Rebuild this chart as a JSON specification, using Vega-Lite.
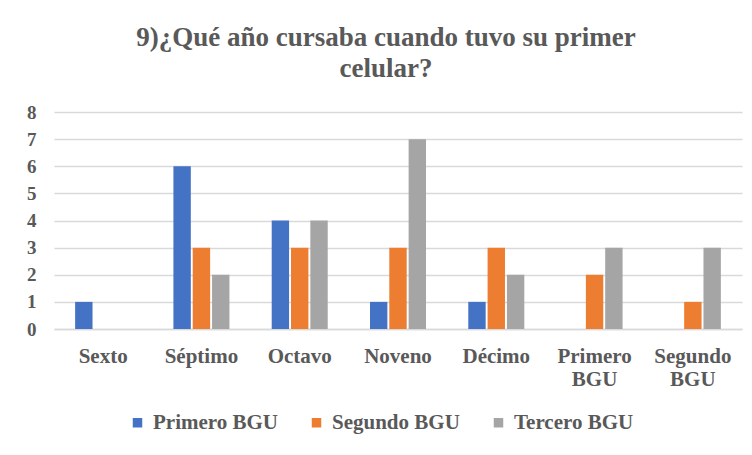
{
  "$schema": "https://vega.github.io/schema/vega-lite/v6.json",
  "width": 688,
  "height": 217,
  "autosize": "none",
  "padding": {"left": 54, "top": 112, "right": 10, "bottom": 126},
  "background": "white",
  "title": {
    "text": ["9)¿Qué año cursaba cuando tuvo su primer", "celular?"],
    "font": "'Liberation Serif', 'Times New Roman', serif",
    "fontSize": 27,
    "fontWeight": "bold",
    "color": "#595959",
    "anchor": "middle",
    "offset": 20,
    "lineHeight": 31,
    "dx": -12
  },
  "data": {
    "values": [
      {"curso": "Sexto", "serie": "Primero BGU", "valor": 1},
      {"curso": "Sexto", "serie": "Segundo BGU", "valor": 0},
      {"curso": "Sexto", "serie": "Tercero BGU", "valor": 0},
      {"curso": "Séptimo", "serie": "Primero BGU", "valor": 6},
      {"curso": "Séptimo", "serie": "Segundo BGU", "valor": 3},
      {"curso": "Séptimo", "serie": "Tercero BGU", "valor": 2},
      {"curso": "Octavo", "serie": "Primero BGU", "valor": 4},
      {"curso": "Octavo", "serie": "Segundo BGU", "valor": 3},
      {"curso": "Octavo", "serie": "Tercero BGU", "valor": 4},
      {"curso": "Noveno", "serie": "Primero BGU", "valor": 1},
      {"curso": "Noveno", "serie": "Segundo BGU", "valor": 3},
      {"curso": "Noveno", "serie": "Tercero BGU", "valor": 7},
      {"curso": "Décimo", "serie": "Primero BGU", "valor": 1},
      {"curso": "Décimo", "serie": "Segundo BGU", "valor": 3},
      {"curso": "Décimo", "serie": "Tercero BGU", "valor": 2},
      {"curso": "Primero BGU", "serie": "Primero BGU", "valor": 0},
      {"curso": "Primero BGU", "serie": "Segundo BGU", "valor": 2},
      {"curso": "Primero BGU", "serie": "Tercero BGU", "valor": 3},
      {"curso": "Segundo BGU", "serie": "Primero BGU", "valor": 0},
      {"curso": "Segundo BGU", "serie": "Segundo BGU", "valor": 1},
      {"curso": "Segundo BGU", "serie": "Tercero BGU", "valor": 3}
    ]
  },
  "mark": {"type": "bar"},
  "encoding": {
    "x": {
      "field": "curso",
      "type": "nominal",
      "sort": ["Sexto", "Séptimo", "Octavo", "Noveno", "Décimo", "Primero BGU", "Segundo BGU"],
      "scale": {"paddingInner": 0.43, "paddingOuter": 0.215},
      "axis": {
        "title": null,
        "labelAngle": 0,
        "labelExpr": "split(datum.label, ' ')",
        "labelFont": "'Liberation Serif', 'Times New Roman', serif",
        "labelFontSize": 21,
        "labelFontWeight": "bold",
        "labelColor": "#595959",
        "labelPadding": 16,
        "labelLineHeight": 23,
        "labelOverlap": false,
        "ticks": false,
        "domainColor": "#d9d9d9",
        "domainWidth": 1.5
      }
    },
    "xOffset": {
      "field": "serie",
      "type": "nominal",
      "scale": {"paddingInner": 0.1}
    },
    "y": {
      "field": "valor",
      "type": "quantitative",
      "scale": {"domain": [0, 8]},
      "axis": {
        "title": null,
        "values": [0, 1, 2, 3, 4, 5, 6, 7, 8],
        "labelOverlap": false,
        "domain": false,
        "ticks": false,
        "labelFont": "'Liberation Serif', 'Times New Roman', serif",
        "labelFontSize": 19,
        "labelFontWeight": "bold",
        "labelColor": "#595959",
        "labelPadding": 18,
        "gridColor": "#d9d9d9",
        "gridWidth": 1.5
      }
    },
    "color": {
      "field": "serie",
      "type": "nominal",
      "scale": {
        "domain": ["Primero BGU", "Segundo BGU", "Tercero BGU"],
        "range": ["#4472C4", "#ED7D31", "#A5A5A5"]
      },
      "legend": {
        "title": null,
        "orient": "none",
        "direction": "horizontal",
        "legendX": 73,
        "legendY": 300,
        "symbolType": "square",
        "symbolSize": 90,
        "symbolStrokeWidth": 0,
        "labelFont": "'Liberation Serif', 'Times New Roman', serif",
        "labelFontSize": 21,
        "labelFontWeight": "bold",
        "labelColor": "#595959",
        "columnPadding": 28,
        "labelOffset": 5
      }
    }
  },
  "config": {"view": {"stroke": null}}
}
